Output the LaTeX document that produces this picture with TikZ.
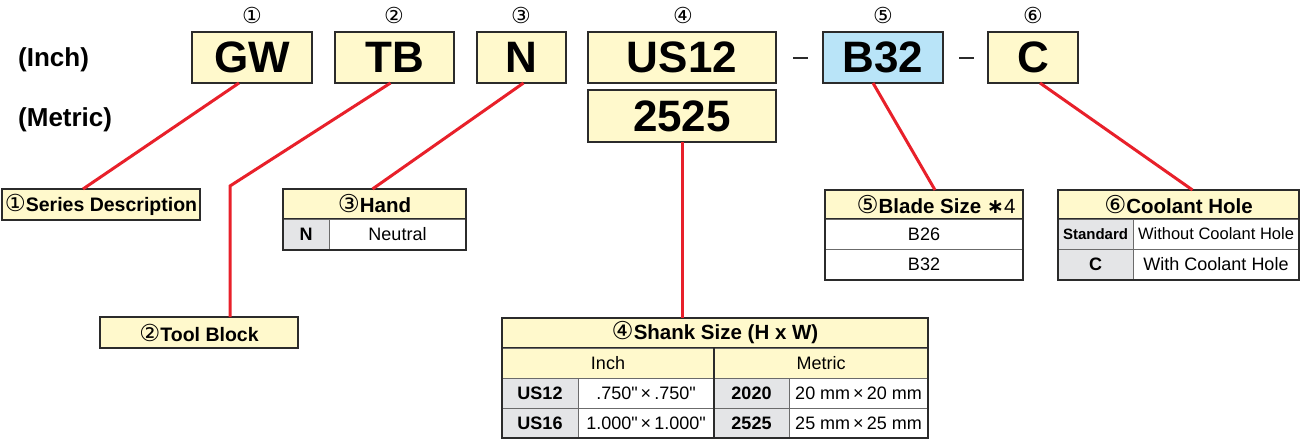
\documentclass[tikz,border=0pt]{standalone}
\usepackage{fontspec}
\setmainfont{Liberation Sans}[Ligatures=TeXOff]
\newfontfamily\symfont{DejaVu Sans}
\definecolor{boxyellow}{HTML}{FFF9CC}
\definecolor{boxblue}{HTML}{B9E4F8}
\definecolor{cellgray}{HTML}{E4E5E7}
\definecolor{edgedark}{HTML}{2B2B2B}
\definecolor{linered}{HTML}{E8202A}
\newcommand{\fs}[1]{\fontsize{#1}{#1}\selectfont}
\newcommand{\cn}[1]{{\symfont\mdseries\scalebox{1.2}{#1}}}
\newcommand{\tcell}[7]{\node[inner sep=0pt, outer sep=0pt, minimum width={(#4-#2)*1pt}, minimum height={(#5-#3)*1pt}, #6] (#1) at ({(#2+#4)/2},{(#3+#5)/2}) {#7};}
\tikzset{
  codebox/.style={draw=edgedark, line width=1.5pt, fill=boxyellow, font=\fs{44}\bfseries},
  headcell/.style={draw=edgedark, line width=1.5pt, fill=boxyellow, font=\fs{20.5}\bfseries},
  labelbox/.style={draw=edgedark, line width=1.5pt, fill=boxyellow, font=\fs{19.5}\bfseries},
  subcell/.style={draw=edgedark!70, line width=1pt, fill=boxyellow, font=\fs{18}},
  keycell/.style={draw=edgedark!70, line width=1pt, fill=cellgray, font=\fs{18}\bfseries},
  valcell/.style={draw=edgedark!70, line width=1pt, fill=white, font=\fs{18}},
  tabframe/.style={draw=edgedark, line width=1.8pt},
  numlabel/.style={font=\fs{22}\symfont, inner sep=0pt},
  sidelabel/.style={font=\fs{26}\bfseries, inner sep=0pt, anchor=west},
  redline/.style={draw=linered, line width=3pt},
  dashmark/.style={draw=edgedark, line width=1.3pt}
}
\begin{document}
\begin{tikzpicture}[x=1pt, y=-1pt]
\useasboundingbox (0,0) rectangle (1301,439);
% side labels
\node[sidelabel] (inchlbl) at (18,60) {(Inch)};
\node[sidelabel] (metriclbl) at (18,120) {(Metric)};
% circled numbers
\node[numlabel] (n1) at (252,15) {①};
\node[numlabel] (n2) at (394,15) {②};
\node[numlabel] (n3) at (521,15) {③};
\node[numlabel] (n4) at (683,15) {④};
\node[numlabel] (n5) at (883,15) {⑤};
\node[numlabel] (n6) at (1033,15) {⑥};
\coordinate (tbbend) at (230,186);
% code boxes
\tcell{gw}{192}{32}{312}{83}{codebox}{GW}
\tcell{tb}{335}{32}{454}{83}{codebox}{TB}
\tcell{nn}{477}{32}{566}{83}{codebox}{N}
\tcell{us}{588}{32}{776}{83}{codebox}{US12}
\tcell{mt}{588}{90}{776}{142}{codebox}{2525}
\tcell{bb}{823}{32}{943}{83}{codebox, fill=boxblue}{B32}
\tcell{cc}{988}{32}{1078}{83}{codebox}{C}
% dashes
\coordinate (d1a) at (793,58); \coordinate (d1b) at (808,58);
\coordinate (d2a) at (959,58); \coordinate (d2b) at (974,58);
\draw[dashmark] (d1a) -- (d1b);
\draw[dashmark] (d2a) -- (d2b);
% label boxes
\tcell{sd}{2}{189}{200}{220}{labelbox}{\cn{①}Series Description}
\tcell{tblk}{100}{317}{298}{348}{labelbox}{\cn{②}Tool Block}
% Hand table
\tcell{hh}{283}{189}{466}{219}{headcell}{\cn{③}Hand}
\tcell{hk}{283}{219}{329}{250}{keycell}{N}
\tcell{hv}{329}{219}{466}{250}{valcell}{Neutral}
\draw[tabframe] (hh.north west) rectangle (hv.south east);
% Blade table
\tcell{bh}{825}{190}{1023}{219}{headcell}{\hspace*{24pt}\cn{⑤}Blade Size {\symfont\bfseries ∗}\mdseries 4}
\tcell{b1}{825}{219}{1023}{249}{valcell}{B26}
\tcell{b2}{825}{249}{1023}{280}{valcell}{B32}
\draw[tabframe] (bh.north west) rectangle (b2.south east);
% Coolant table
\tcell{ch}{1058}{190}{1299}{219}{headcell}{\cn{⑥}Coolant Hole}
\tcell{c1k}{1058}{219}{1133}{249}{keycell, font=\fs{15}\bfseries}{Standard}
\tcell{c1v}{1133}{219}{1299}{249}{valcell, font=\fs{16.5}}{Without Coolant Hole}
\tcell{c2k}{1058}{249}{1133}{280}{keycell}{C}
\tcell{c2v}{1133}{249}{1299}{280}{valcell}{With Coolant Hole}
\draw[tabframe] (ch.north west) rectangle (c2v.south east);
% Shank table
\tcell{sh}{502}{318}{928}{348}{headcell}{\cn{④}Shank Size (H x W)}
\tcell{si}{502}{348}{714}{378}{subcell}{Inch}
\tcell{sm}{714}{348}{928}{378}{subcell}{Metric}
\tcell{s1a}{502}{378}{578}{408}{keycell}{US12}
\tcell{s1b}{578}{378}{714}{408}{valcell}{.750"\,×\,.750"}
\tcell{s1c}{714}{378}{789}{408}{keycell}{2020}
\tcell{s1d}{789}{378}{928}{408}{valcell}{20 mm\,×\,20 mm}
\tcell{s2a}{502}{408}{578}{438}{keycell}{US16}
\tcell{s2b}{578}{408}{714}{438}{valcell}{1.000"\,×\,1.000"}
\tcell{s2c}{714}{408}{789}{438}{keycell}{2525}
\tcell{s2d}{789}{408}{928}{438}{valcell}{25 mm\,×\,25 mm}
\draw[tabframe] (sh.north west) rectangle (s2d.south east);
\draw[edgedark, line width=1.8pt] (si.north east) -- (s2b.south east);
% connectors
\draw[redline] ([xshift=-13pt]gw.south) -- ([xshift=-18pt]sd.north);
\draw[redline] ([xshift=-4pt]tb.south) -- (tbbend) -- (tbbend |- tblk.north);
\draw[redline] ([xshift=2pt]nn.south) -- ([xshift=-2pt]hh.north);
\draw[redline] (mt.south) -- (mt.south |- sh.north);
\draw[redline] ([xshift=-10pt]bb.south) -- ([xshift=11pt]bh.north);
\draw[redline] ([xshift=7pt]cc.south) -- ([xshift=14pt]ch.north);
\end{tikzpicture}
\end{document}
